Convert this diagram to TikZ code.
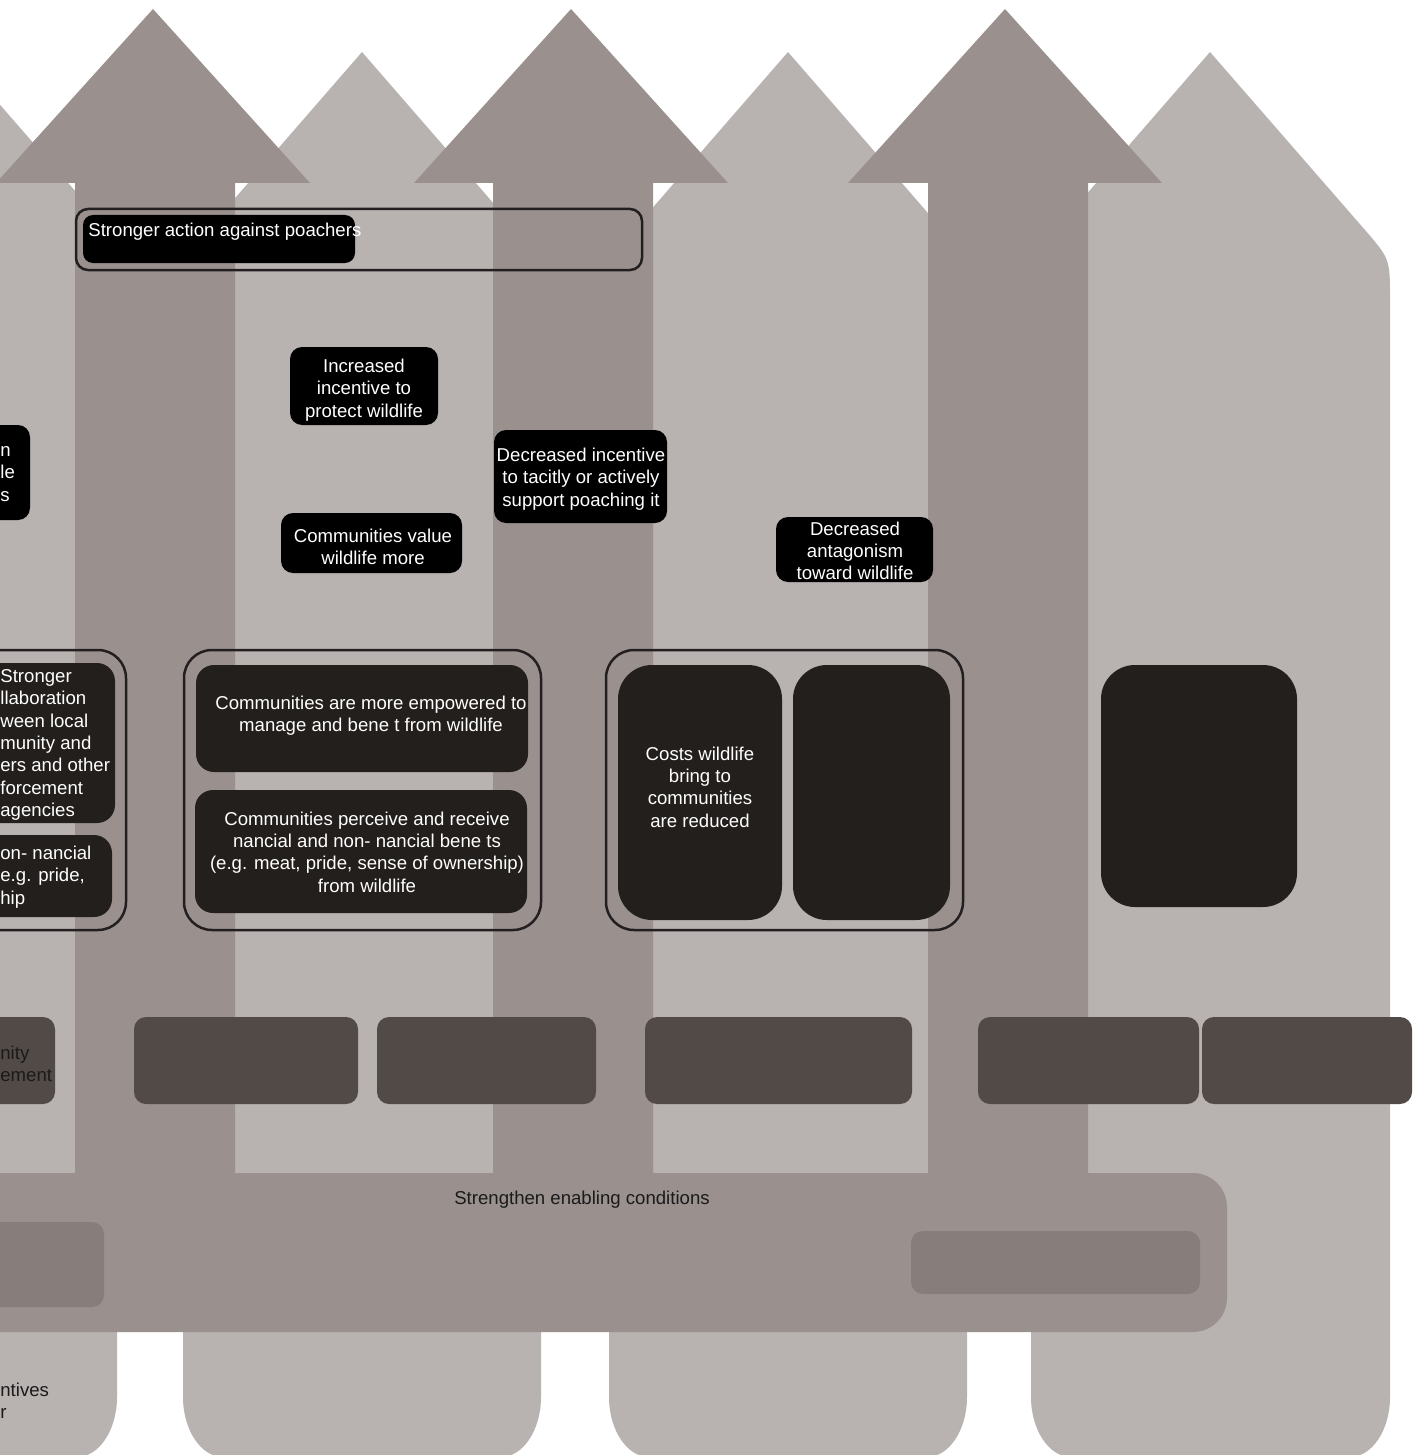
\documentclass[tikz,border=0pt]{standalone}
\usepackage{fontspec}
\setmainfont{Liberation Sans}
\definecolor{lightarr}{HTML}{B8B2B1}
\definecolor{darkarr}{HTML}{9A918F}
\definecolor{barin}{HTML}{877E7B}
\definecolor{botc}{HTML}{514A47}
\definecolor{boxdark}{HTML}{231F1C}
\definecolor{linec}{HTML}{231F20}
\definecolor{txtc}{HTML}{1A1A1A}
\newcommand\dfnt{\fontsize{9.3}{11.15}\selectfont}
\begin{document}
\begin{tikzpicture}[x=0.5pt,y=-0.5pt,
  lightshape/.style={fill=lightarr},
  darkshape/.style={fill=darkarr},
  blk/.style={fill=black, rounded corners=6pt, inner sep=0pt},
  grpbox/.style={fill=boxdark, rounded corners=9pt, inner sep=0pt},
  roundbox/.style={fill=boxdark, rounded corners=17pt, inner sep=0pt},
  botbox/.style={fill=botc, rounded corners=6pt, inner sep=0pt},
  barbox/.style={fill=barin, rounded corners=6pt, inner sep=0pt},
  outl/.style={draw=linec, line width=1.25pt, rounded corners=14pt, inner sep=0pt},
  wtxt/.style={text=white, font=\dfnt, align=center, inner sep=0pt, yshift=-1pt},
  wltxt/.style={text=white, font=\dfnt, align=left, inner sep=0pt, anchor=west, yshift=-1pt},
  ktxt/.style={text=txtc, font=\dfnt, align=left, inner sep=0pt, anchor=west, yshift=-1pt}]
\useasboundingbox (0,0) rectangle (1413,1455);
\clip (0,0) rectangle (1413,1455);

% light arrows
\fill[lightshape] (-46,52) -- (117,239) -- (117,1397) .. controls (117,1430) and (99,1457) .. (77,1457)
  -- (-250,1457) -- (-250,239) -- cycle;
\fill[lightshape] (362,52) -- (541,258) -- (541,1397) .. controls (541,1430) and (523,1457) .. (501,1457)
  -- (223,1457) .. controls (201,1457) and (183,1430) .. (183,1397) -- (183,258) -- cycle;
\fill[lightshape] (788,52) -- (967,258) -- (967,1397) .. controls (967,1430) and (949,1457) .. (927,1457)
  -- (649,1457) .. controls (627,1457) and (609,1430) .. (609,1397) -- (609,258) -- cycle;
\fill[lightshape] (1210,52) -- (1365,230) .. controls (1390,259) .. (1390,300) -- (1390,1397)
  .. controls (1390,1430) and (1372,1457) .. (1350,1457)
  -- (1071,1457) .. controls (1049,1457) and (1031,1430) .. (1031,1397) -- (1031,258) -- cycle;

% dark arrows
\fill[darkshape] (153,9) -- (310,183) -- (235,183) -- (235,1200) -- (75,1200) -- (75,183) -- (-4,183) -- cycle;
\fill[darkshape] (571,9) -- (728,183) -- (653,183) -- (653,1200) -- (493,1200) -- (493,183) -- (414,183) -- cycle;
\fill[darkshape] (1005,9) -- (1162,183) -- (1088,183) -- (1088,1200) -- (928,1200) -- (928,183) -- (848,183) -- cycle;

% enabling conditions bar
\node[fill=darkarr, rounded corners=17pt, inner sep=0pt, minimum width=638.5pt, minimum height=79.5pt] (bar) at (588.5,1252.5) {};
\node[text=txtc, font=\dfnt, inner sep=0pt, yshift=-1pt] (bartext) at (582,1198) {Strengthen enabling conditions};
\node[barbox, minimum width=77pt, minimum height=42.5pt] (barl) at (27,1264.5) {};
\node[barbox, minimum width=144.5pt, minimum height=31.5pt] (barr) at (1055.5,1262.5) {};

% bottom strategy boxes
\node[botbox, minimum width=52.5pt, minimum height=43.5pt] (b0) at (2.5,1060.5) {};
\node[ktxt] (b0t) at (0,1062) {nity\\ement};
\node[botbox, minimum width=112pt, minimum height=43.5pt] (b1) at (246,1060.5) {};
\node[botbox, minimum width=109.5pt, minimum height=43.5pt] (b2) at (486.5,1060.5) {};
\node[botbox, minimum width=133.5pt, minimum height=43.5pt] (b3) at (778.5,1060.5) {};
\node[botbox, minimum width=110.5pt, minimum height=43.5pt] (b4) at (1088.5,1060.5) {};
\node[botbox, minimum width=105pt, minimum height=43.5pt] (b5) at (1307,1060.5) {};

\node[ktxt] (inct) at (0,1399) {ntives\\r};

% top result
\node[outl, minimum width=283pt, minimum height=30.5pt, rounded corners=6pt] (poachgrp) at (359,239.5) {};
\node[blk, minimum width=136pt, minimum height=24pt, rounded corners=5pt] (poach) at (219,239) {};
\node[wltxt] (poacht) at (88,230) {Stronger action against poachers};

% intermediate results
\node[blk, minimum width=40pt, minimum height=47.5pt] (leftcut) at (-10,472.5) {};
\node[wltxt] (leftcutt) at (0,472) {n\\le\\s};

\node[blk, minimum width=74pt, minimum height=39pt] (incr) at (364,386) {};
\node[wtxt] (incrt) at (364,388) {Increased\\incentive to\\protect wildlife};

\node[blk, minimum width=86.5pt, minimum height=46.5pt] (decr) at (580.5,476.5) {};
\node[wtxt] (decrt) at (581,477) {Decreased incentive\\to tacitly or actively\\support poaching it};

\node[blk, minimum width=90.5pt, minimum height=30pt] (value) at (371.5,543) {};
\node[wtxt] (valuet) at (373,545) {Communities value\\wildlife more};

\node[blk, minimum width=78.5pt, minimum height=32.5pt] (antag) at (854.5,549.5) {};
\node[wtxt] (antagt) at (855,549) {Decreased\\antagonism\\toward wildlife};

% group 1 (left, clipped)
\node[outl, minimum width=88pt, minimum height=140pt] (g1) at (38,790) {};
\node[grpbox, minimum width=82.5pt, minimum height=80pt] (g1a) at (32.5,743) {};
\node[wltxt] (g1at) at (0,743) {Stronger\\llaboration\\ween local\\munity and\\ers and other\\forcement\\agencies};
\node[grpbox, minimum width=81pt, minimum height=41pt] (g1b) at (31,876) {};
\node[wltxt] (g1bt) at (0,875) {on- nancial\\e.g. pride,\\hip};

% group 2
\node[outl, minimum width=178.5pt, minimum height=140pt] (g2) at (362.5,790) {};
\node[grpbox, minimum width=166pt, minimum height=53.5pt] (g2a) at (362,718.5) {};
\node[wtxt] (g2at) at (371,714) {Communities are more empowered to\\manage and bene t from wildlife};
\node[grpbox, minimum width=166pt, minimum height=61.5pt] (g2b) at (361,851.5) {};
\node[wtxt] (g2bt) at (367,850) {Communities perceive and receive\\nancial and non- nancial bene ts\\(e.g. meat, pride, sense of ownership)\\from wildlife};

% group 3
\node[outl, minimum width=178.5pt, minimum height=140pt] (g3) at (784.5,790) {};
\node[roundbox, minimum width=82pt, minimum height=127.5pt] (g3a) at (700,792.5) {};
\node[wtxt] (g3at) at (700,785) {Costs wildlife\\bring to\\communities\\are reduced};
\node[roundbox, minimum width=78.5pt, minimum height=127.5pt] (g3b) at (871.5,792.5) {};

% right box
\node[roundbox, minimum width=98pt, minimum height=121pt] (rbox) at (1199,786) {};
\end{tikzpicture}
\end{document}
